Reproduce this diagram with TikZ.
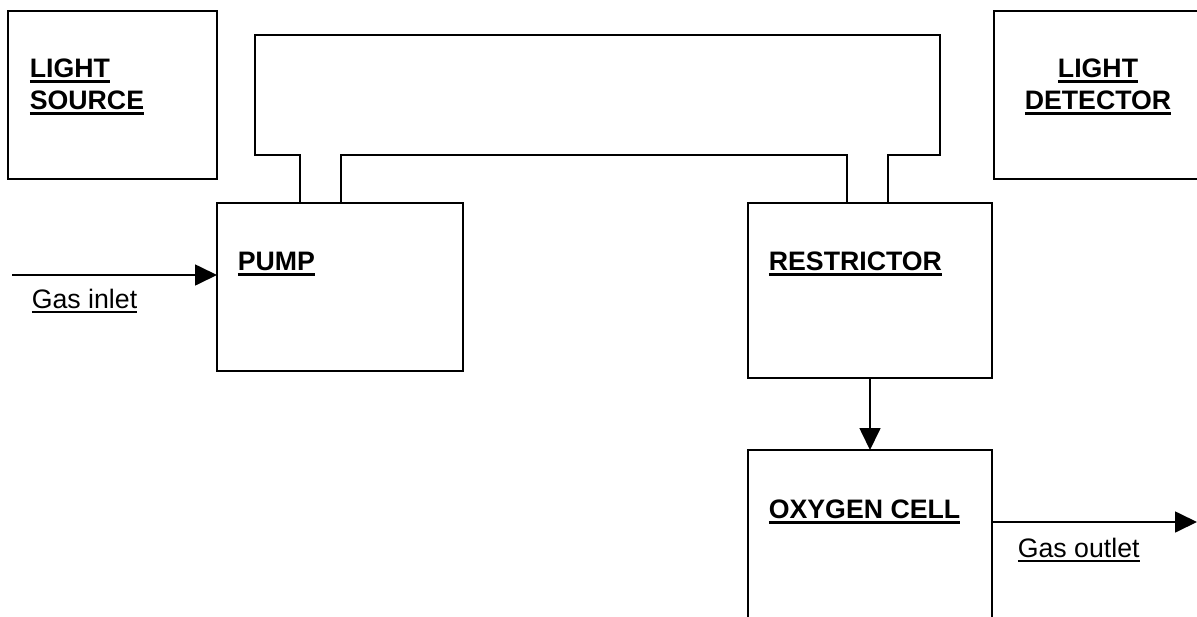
\documentclass[tikz,border=0pt]{standalone}
\usepackage{fontspec}
\setmainfont{Liberation Sans}
\usetikzlibrary{arrows.meta}
\newcommand{\undr}[2]{\vtop{\hbox{#2}\kern2.5pt\hrule height #1}}

\begin{document}
\begin{tikzpicture}[x=1pt,y=-1pt,line width=1.7pt,
  box/.style={draw,rectangle,inner sep=0pt,outer sep=0pt},
  lbl/.style={inner sep=0pt,font=\fontsize{26.7}{32}\selectfont\bfseries},
  gas/.style={inner sep=0pt,font=\fontsize{26.7}{32}\selectfont},
  flow/.style={-{Triangle[length=22pt,width=21pt]}}]
\useasboundingbox (0,0) rectangle (1197,616);
\clip (0,0) rectangle (1197,616);
\node[box,minimum width=209pt,minimum height=168pt] (src) at (112.5,95) {};
\node[box,minimum width=216pt,minimum height=168pt] (det) at (1102,95) {};
\node[box,minimum width=246pt,minimum height=168pt] (pump) at (340,287) {};
\node[box,minimum width=244pt,minimum height=175pt] (restr) at (870,290.5) {};
\node[box,minimum width=244pt,minimum height=200pt] (oxy) at (870,550) {};
\node[lbl,align=left,anchor=north west] (srctxt) at (29,58) {\undr{3pt}{LIGHT}\\\undr{3pt}{SOURCE}};
\node[lbl,align=center,anchor=north] (dettxt) at (1098,58) {\undr{3pt}{LIGHT}\\\undr{3pt}{DETECTOR}};
\node[lbl,anchor=base west] (pumptxt) at (237,270) {\undr{3pt}{PUMP}};
\node[lbl,anchor=base west] (restrtxt) at (768,270) {\undr{3pt}{RESTRICTOR}};
\node[lbl,anchor=base west] (oxytxt) at (768,518) {\undr{3pt}{OXYGEN CELL}};
\node[gas,anchor=base west] (intxt) at (31,308) {\undr{1.8pt}{Gas inlet}};
\node[gas,anchor=base west] (outtxt) at (1017,557) {\undr{1.8pt}{Gas outlet}};
\draw (300,203) -- (300,155) -- (255,155) -- (255,35) -- (940,35) -- (940,155) -- (888,155) -- (888,203);
\draw (341,203) -- (341,155) -- (847,155) -- (847,203);
\coordinate (in) at (12,275);
\coordinate (out) at (1197,522);
\draw[flow] (in) -- (in -| pump.west);
\draw[flow] (restr.south) -- (oxy.north);
\draw[flow] (out -| oxy.east) -- (out);
\end{tikzpicture}
\end{document}
